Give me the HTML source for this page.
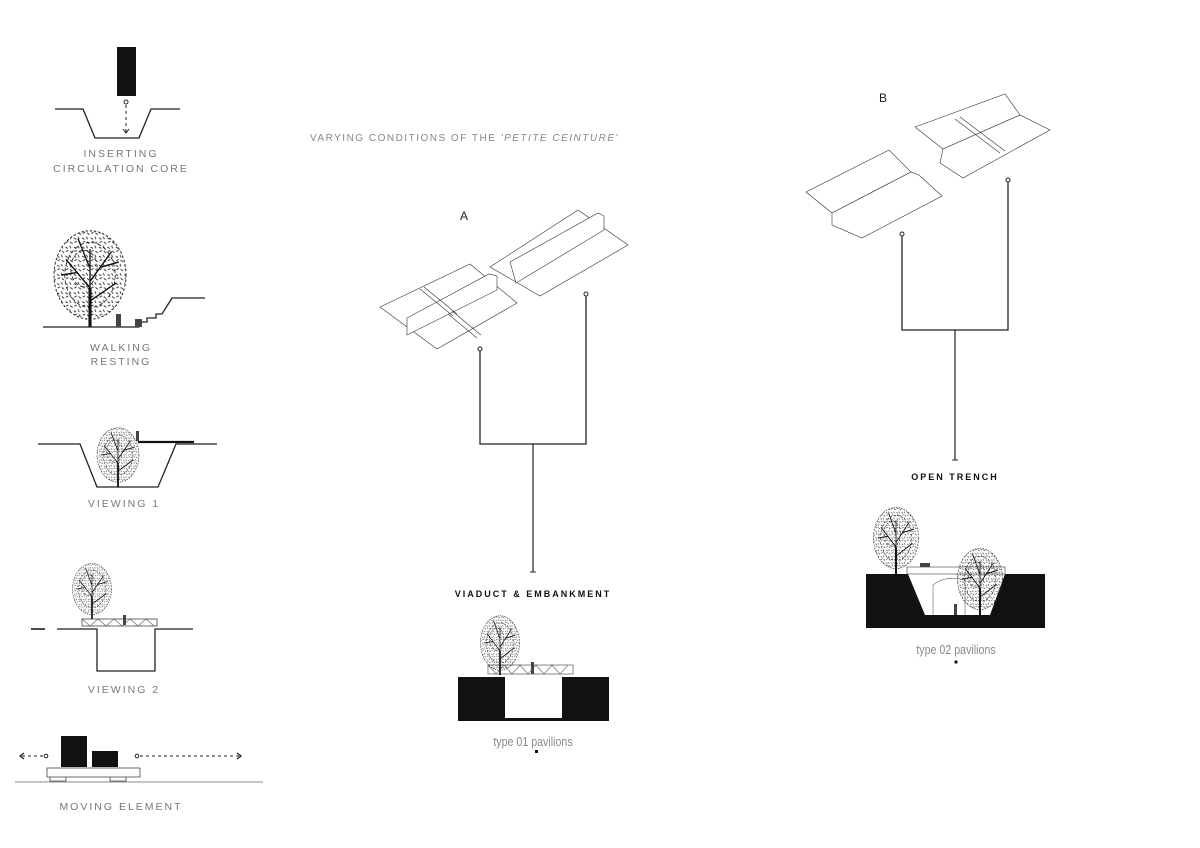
<!DOCTYPE html>
<html><head><meta charset="utf-8"><style>
html,body{margin:0;padding:0;background:#fff;}
svg{display:block;}
text{font-family:"Liberation Sans",sans-serif;}
.lab{font-size:10.5px;fill:#777;letter-spacing:2px;text-anchor:middle;}
.bold{font-size:9px;fill:#111;font-weight:bold;letter-spacing:2px;text-anchor:middle;}
.ln{stroke:#222;stroke-width:1.3;fill:none;}
.thin{stroke:#333;stroke-width:0.6;fill:#fff;}
.crown{fill:url(#leaf);stroke:#222;stroke-width:0.8;stroke-dasharray:2 1.5;}
.crown2{fill:none;stroke:#222;stroke-width:0.7;stroke-dasharray:3 2;}
</style></head><body>
<svg width="1200" height="848" viewBox="0 0 1200 848" xmlns="http://www.w3.org/2000/svg">
<defs>
<pattern id="leaf" width="7" height="7" patternUnits="userSpaceOnUse">
 <path d="M0.5 1.5 l2 1 M4 0.5 l1 2 M1 5 l2 -1 M4.5 4.5 l2 1.5" stroke="#222" stroke-width="0.7"/>
</pattern>
<g id="tree">
 <ellipse cx="0" cy="-40" rx="30" ry="34" class="crown"/>
 <ellipse cx="0" cy="-40" rx="21" ry="25" class="crown2"/>
 <ellipse cx="-5" cy="-45" rx="11" ry="14" class="crown2"/>
 <path d="M0 0 V-60 M0 -30 L-20 -52 M0 -35 L18 -58 M0 -45 L-10 -68 M0 -20 L22 -34 M-10 -42 L-24 -40 M9 -46 L24 -50" stroke="#111" stroke-width="1.1" fill="none"/>
 <path d="M0 0 V-30" stroke="#111" stroke-width="2.6"/>
</g>
</defs>

<!-- Inserting circulation core -->
<rect x="117" y="47" width="19" height="49" fill="#111"/>
<polyline class="ln" points="55,109 83,109 95,138 139,138 151,109 180,109"/>
<circle cx="126" cy="102" r="2" fill="#fff" stroke="#222"/>
<line x1="126" y1="105" x2="126" y2="132" stroke="#222" stroke-dasharray="3 3"/>
<polyline points="123,129 126,133 129,129" fill="none" stroke="#222"/>
<text class="lab" x="121" y="157">INSERTING</text>
<text class="lab" x="121" y="172">CIRCULATION CORE</text>

<!-- Walking resting -->
<use href="#tree" transform="translate(90,327) scale(1.2,1.3)"/>
<polyline class="ln" points="43,327 139,327 139,322 147,322 147,318 156,318 156,314 162,314 172,298 205,298"/>
<rect x="116" y="314" width="5" height="13" fill="#444"/>
<rect x="135" y="319" width="7" height="8" fill="#444"/>
<text class="lab" x="121" y="351">WALKING</text>
<text class="lab" x="121" y="365">RESTING</text>

<!-- Viewing 1 -->
<polyline class="ln" points="38,444 80,444 97,487 158,487 176,444 217,444"/>
<line x1="138" y1="442" x2="194" y2="442" stroke="#111" stroke-width="2.2"/>
<rect x="136" y="431" width="3" height="10" fill="#444"/>
<use href="#tree" transform="translate(118,487) scale(0.7,0.8)"/>
<text class="lab" x="124" y="507">VIEWING 1</text>

<!-- Viewing 2 -->
<line x1="31" y1="629" x2="45" y2="629" stroke="#111" stroke-width="1.5"/>
<polyline class="ln" points="57,629 97,629 97,671 155,671 155,629 193,629"/>
<rect x="82" y="619" width="75" height="7" fill="none" stroke="#444" stroke-width="0.8"/>
<path d="M82 619 L90 626 L98 619 L106 626 L114 619 L122 626 L130 619 L138 626 L146 619 L154 626" fill="none" stroke="#555" stroke-width="0.6"/>
<use href="#tree" transform="translate(92,619) scale(0.65,0.75)"/>
<rect x="123" y="615" width="3" height="10" fill="#444"/>
<text class="lab" x="124" y="693">VIEWING 2</text>

<!-- Moving element -->
<rect x="61" y="736" width="26" height="31" fill="#111"/>
<rect x="92" y="751" width="26" height="16" fill="#111"/>
<rect x="47" y="768" width="93" height="9" fill="none" stroke="#444" stroke-width="0.8"/>
<path d="M50 777 v4 h16 v-4 M110 777 v4 h16 v-4" fill="none" stroke="#444" stroke-width="0.8"/>
<line x1="15" y1="782" x2="263" y2="782" stroke="#888" stroke-width="1"/>
<line x1="22" y1="756" x2="44" y2="756" stroke="#222" stroke-dasharray="3 3"/>
<polyline points="24,753 20,756 24,759" fill="none" stroke="#222" stroke-width="1.3"/>
<circle cx="46" cy="756" r="1.8" fill="#fff" stroke="#222"/>
<circle cx="137" cy="756" r="1.8" fill="#fff" stroke="#222"/>
<line x1="140" y1="756" x2="240" y2="756" stroke="#222" stroke-dasharray="3 3"/>
<polyline points="237,753 241,756 237,759" fill="none" stroke="#222" stroke-width="1.3"/>
<text class="lab" x="121" y="810">MOVING ELEMENT</text>

<!-- Title -->
<text x="310" y="141" style="font-size:10px;fill:#888;letter-spacing:1.5px;">VARYING CONDITIONS OF THE <tspan font-style="italic">'PETITE CEINTURE'</tspan></text>

<!-- A -->
<text x="460" y="220" style="font-size:12px;fill:#222;">A</text>
<g class="thin">
 <polygon points="380,307 470,264 517,303 437,349"/>
 <polygon points="407,335 497,290 497,276 489,274 407,318"/>
 <line x1="420" y1="289" x2="453" y2="316"/>
 <line x1="424" y1="287" x2="457" y2="314"/>
 <line x1="448" y1="314" x2="477" y2="338"/>
 <line x1="452" y1="311" x2="481" y2="335"/>
 <polygon points="490,267 578,210 628,245 540,296"/>
 <polygon points="516,283 604,230 604,216 598,213 510,262 516,283"/>
</g>
<circle cx="480" cy="349" r="2" fill="#fff" stroke="#222"/>
<circle cx="586" cy="294" r="2" fill="#fff" stroke="#222"/>
<polyline class="ln" points="480,351 480,444 586,444 586,296"/>
<line x1="533" y1="444" x2="533" y2="572" stroke="#222" stroke-width="1.2"/>
<line x1="530" y1="572" x2="536" y2="572" stroke="#222"/>
<text class="bold" x="533" y="597">VIADUCT &amp; EMBANKMENT</text>
<rect x="458" y="677" width="151" height="44" fill="#111"/>
<rect x="505" y="677" width="57" height="41" fill="#fff"/>
<rect x="488" y="665" width="85" height="9" fill="none" stroke="#555" stroke-width="0.7"/>
<path d="M488 665 L496 674 L504 665 L512 674 L520 665 L528 674 L536 665 L544 674 L552 665 L560 674 L568 665" fill="none" stroke="#666" stroke-width="0.6"/>
<use href="#tree" transform="translate(500,675) scale(0.65,0.8)"/>
<rect x="531" y="662" width="3" height="12" fill="#444"/>
<text x="533" y="746" text-anchor="middle" style="font-size:13px;fill:#888;transform:scaleX(0.82);transform-origin:533px 746px;">type 01 pavilions</text>
<rect x="535" y="750" width="3" height="3" fill="#111"/>

<!-- B -->
<text x="879" y="102" style="font-size:12px;fill:#222;">B</text>
<g class="thin">
 <polygon points="806,192 889,150 911,172 832,213"/>
 <polygon points="832,213 911,172 919,175 942,196 862,238 832,225"/>
 <polygon points="915,127 1005,94 1020,115 943,149"/>
 <polygon points="943,149 1020,115 1050,130 963,178 940,163"/>
 <line x1="955" y1="119" x2="1000" y2="153"/>
 <line x1="960" y1="117" x2="1005" y2="151"/>
</g>
<circle cx="902" cy="234" r="2" fill="#fff" stroke="#222"/>
<circle cx="1008" cy="180" r="2" fill="#fff" stroke="#222"/>
<polyline class="ln" points="902,236 902,330 1008,330 1008,182"/>
<line x1="955" y1="330" x2="955" y2="460" stroke="#222" stroke-width="1.2"/>
<line x1="952" y1="460" x2="958" y2="460" stroke="#222"/>
<text class="bold" x="955" y="480">OPEN TRENCH</text>
<path d="M866 574 H908 L925 615 H990 L1005 574 H1045 V628 H866 Z" fill="#111"/>
<rect x="907" y="567" width="98" height="7" fill="#fff" stroke="#555" stroke-width="0.7"/>
<path d="M933 615 V585 Q945 575 965 580 V615" fill="none" stroke="#666" stroke-width="0.6"/>
<use href="#tree" transform="translate(896,574) scale(0.75,0.9)"/>
<use href="#tree" transform="translate(980,615) scale(0.75,0.9)"/>
<rect x="954" y="604" width="3" height="11" fill="#444"/>
<rect x="920" y="563" width="10" height="4" fill="#444"/>
<text x="956" y="654" text-anchor="middle" style="font-size:13px;fill:#888;transform:scaleX(0.82);transform-origin:956px 654px;">type 02 pavilions</text>
<circle cx="956" cy="662" r="1.6" fill="#111"/>
</svg>
</body></html>
